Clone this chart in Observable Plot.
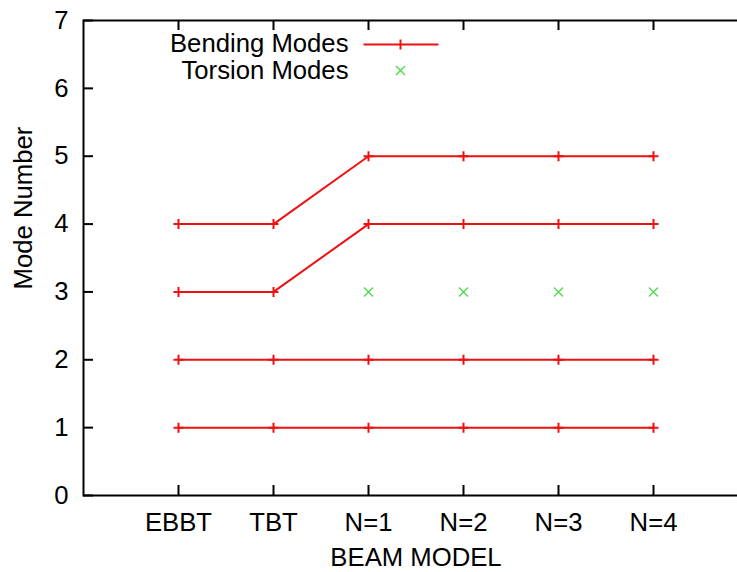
<!DOCTYPE html>
<html>
<head>
<meta charset="utf-8">
<script src="https://cdn.jsdelivr.net/npm/d3@7"></script>
<script src="https://cdn.jsdelivr.net/npm/@observablehq/plot@0.6"></script>
<style>
  html, body { margin: 0; padding: 0; background: #fff; overflow: hidden; }
  #chart { width: 737px; height: 572px; }
</style>
</head>
<body>
<div id="chart"></div>
<script>
// ---- data ----
const models = ["EBBT", "TBT", "N=1", "N=2", "N=3", "N=4"];
const bendingMode1 = [1, 1, 1, 1, 1, 1];
const bendingMode2 = [2, 2, 2, 2, 2, 2];
const bendingMode3 = [3, 3, 4, 4, 4, 4];
const bendingMode4 = [4, 4, 5, 5, 5, 5];
const torsionModels = ["N=1", "N=2", "N=3", "N=4"];
const torsionModes = [3, 3, 3, 3];
const yTicks = [0, 1, 2, 3, 4, 5, 6, 7];
const legendLabels = ["Bending Modes", "Torsion Modes"];

// ---- build tables ----
const pos = m => models.indexOf(m) + 1;
const bending = [bendingMode1, bendingMode2, bendingMode3, bendingMode4].flatMap((arr, s) =>
  arr.map((v, i) => ({series: s, model: models[i], x: pos(models[i]), y: v})));
const torsion = torsionModels.map((m, i) => ({model: m, x: pos(m), y: torsionModes[i]}));
const xTicks = models.map(pos);

const RED = "#ee1111";
const GREEN = "#55dd55";

const plusSymbol = {draw(ctx) { const r = 5; ctx.moveTo(-r, 0); ctx.lineTo(r, 0); ctx.moveTo(0, -r); ctx.lineTo(0, r); }};
const timesSymbol = {draw(ctx) { const r = 4.5; ctx.moveTo(-r, -r); ctx.lineTo(r, r); ctx.moveTo(-r, r); ctx.lineTo(r, -r); }};
const legendLineSymbol = {draw(ctx) { ctx.moveTo(-37, 0); ctx.lineTo(38, 0); ctx.moveTo(0, -5); ctx.lineTo(0, 5); }};

const W = 737, H = 572;
const mL = 83, mT = 20, mB = 77, mR = -11;
const innerW = W - mL - mR, innerH = H - mT - mB;
const TL = 10;

const chart = Plot.plot({
  width: W,
  height: H,
  marginLeft: mL,
  marginTop: mT,
  marginBottom: mB,
  marginRight: mR,
  style: {fontFamily: "'Liberation Sans', Arial, sans-serif", fontSize: "25.7px", background: "#fff", color: "#000"},
  x: {domain: [0, 7], axis: null},
  y: {domain: [0, 7], axis: null},
  marks: [
    // axis tick labels
    Plot.axisY(yTicks, {tickSize: 0, tickPadding: 15, tickFormat: d => String(d), fill: "#000", label: null}),
    Plot.axisX(xTicks, {tickSize: 0, tickPadding: 17, tickFormat: i => models[i - 1], fill: "#000", label: null}),
    // inward ticks on all four sides
    Plot.tickX(xTicks, {x: d => d, insetTop: innerH - TL, stroke: "#000", strokeWidth: 2}),
    Plot.tickX(xTicks, {x: d => d, insetBottom: innerH - TL, stroke: "#000", strokeWidth: 2}),
    Plot.tickY(yTicks, {y: d => d, insetRight: innerW - TL, stroke: "#000", strokeWidth: 2}),
    Plot.tickY(yTicks, {y: d => d, insetLeft: innerW - TL, stroke: "#000", strokeWidth: 2}),
    // data
    Plot.line(bending, {x: "x", y: "y", z: "series", stroke: RED, strokeWidth: 2}),
    Plot.dot(bending, {x: "x", y: "y", symbol: plusSymbol, fill: "none", stroke: RED, strokeWidth: 2}),
    Plot.dot(torsion, {x: "x", y: "y", symbol: timesSymbol, fill: "none", stroke: GREEN, strokeWidth: 1.5}),
    // frame
    Plot.frame({stroke: "#000", strokeWidth: 2}),
    // axis titles
    Plot.text(["BEAM MODEL"], {frameAnchor: "bottom", dy: 62, lineAnchor: "middle", textAnchor: "middle", fill: "#000"}),
    Plot.text(["Mode Number"], {frameAnchor: "left", dx: -60, dy: -50, rotate: -90, lineAnchor: "middle", textAnchor: "middle", fill: "#000"}),
    // legend
    Plot.text([legendLabels[0]], {frameAnchor: "top-left", dx: 265, dy: 23, textAnchor: "end", lineAnchor: "middle", fill: "#000"}),
    Plot.text([legendLabels[1]], {frameAnchor: "top-left", dx: 265, dy: 50, textAnchor: "end", lineAnchor: "middle", fill: "#000"}),
    Plot.dot([legendLabels[0]], {frameAnchor: "top-left", dx: 317, dy: 24, symbol: legendLineSymbol, fill: "none", stroke: RED, strokeWidth: 2}),
    Plot.dot([legendLabels[1]], {frameAnchor: "top-left", dx: 317, dy: 50, symbol: timesSymbol, fill: "none", stroke: GREEN, strokeWidth: 1.5})
  ]
});
document.getElementById("chart").appendChild(chart);
</script>
</body>
</html>
